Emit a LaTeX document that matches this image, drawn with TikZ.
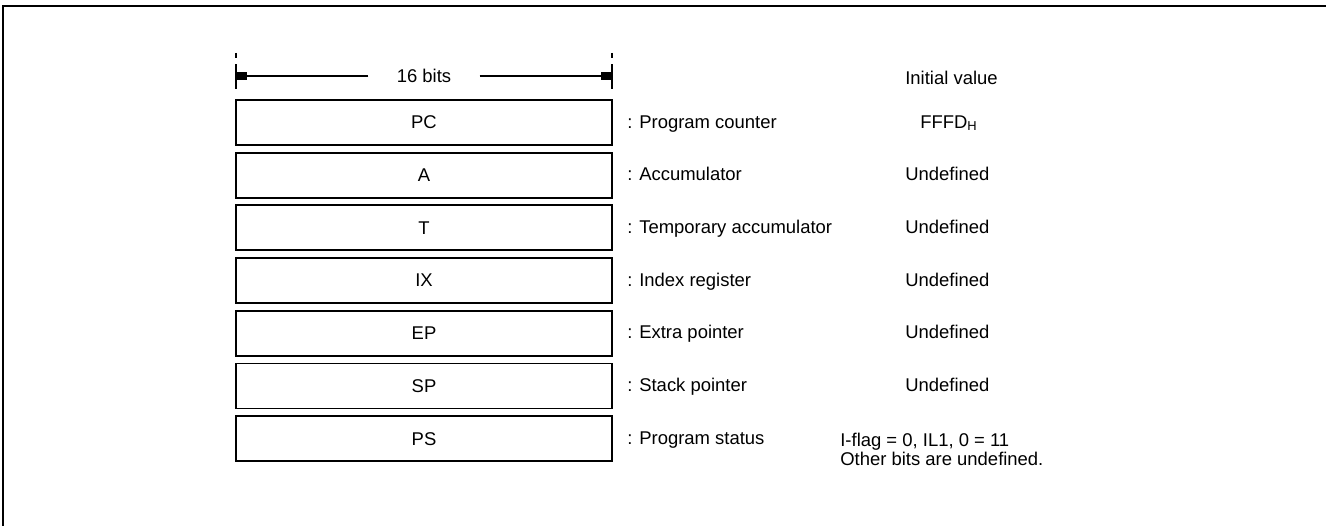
\documentclass[tikz,border=0pt]{standalone}
\usepackage{fontspec}
\setmainfont{Liberation Sans}
\usetikzlibrary{arrows.meta}
\newcommand{\dimtip}{-{Rectangle[length=6pt,width=4.5pt]}}

\begin{document}
\begin{tikzpicture}[x=0.02cm,y=-0.02cm,
    font=\fontsize{10.5}{13}\selectfont,
    reg/.style={draw,line width=1.1pt,minimum width=7.52cm,minimum height=0.9cm,inner sep=0pt},
    desc/.style={anchor=west,inner sep=0pt,text height=1.6ex,text depth=0.4ex},
    val/.style={anchor=west,inner sep=0pt,text height=1.6ex,text depth=0.4ex}]
    			\useasboundingbox (0,0) rectangle (1326,526);
    			\draw[line width=1.2pt] (3,526) -- (3,6) -- (1326,6);
    			% width of the registers
    			\draw[line width=0.9pt,dash pattern=on 3pt off 3.5pt on 14pt] (236,53) -- (236,89);
    			\draw[line width=0.9pt,dash pattern=on 3pt off 3.5pt on 14pt] (612,53) -- (612,89);
    			\coordinate (lt) at (236,76);
    			\coordinate (rt) at (612,76);
    			\node[inner xsep=16pt] (bits) at (424,76) {16 bits};
    			\draw[line width=0.9pt,\dimtip] (bits) -- (lt);
    			\draw[line width=0.9pt,\dimtip] (bits) -- (rt);
    			\node[val] (iv) at (905,79) {Initial value};
    			% registers
    			\node[reg] (pc) at (424,122.5) {PC};
    			\node[reg] (acc) at (424,175.2) {A};
    			\node[reg] (tmp) at (424,227.9) {T};
    			\node[reg] (ix) at (424,280.6) {IX};
    			\node[reg] (ep) at (424,333.3) {EP};
    			\node[reg] (sp) at (424,386) {SP};
    			\node[reg] (ps) at (424,438.7) {PS};
    			\node[desc] (pcd) at (627,122.5) {: Program counter};
    			\node[desc] (accd) at (627,175.2) {: Accumulator};
    			\node[desc] (tmpd) at (627,227.9) {: Temporary accumulator};
    			\node[desc] (ixd) at (627,280.6) {: Index register};
    			\node[desc] (epd) at (627,333.3) {: Extra pointer};
    			\node[desc] (spd) at (627,386) {: Stack pointer};
    			\node[desc] (psd) at (627,438.7) {: Program status};
    			% initial values
    			\node[val] (pcv) at (920,122.5) {FFFD\textsubscript{H}};
    			\node[val] (accv) at (905,175.2) {Undefined};
    			\node[val] (tmpv) at (905,227.9) {Undefined};
    			\node[val] (ixv) at (905,280.6) {Undefined};
    			\node[val] (epv) at (905,333.3) {Undefined};
    			\node[val] (spv) at (905,386) {Undefined};
    			\node[val] (psv) at (840,441) {I-flag = 0, IL1, 0 = 11};
    			\node[val] (psw) at (840,460) {Other bits are undefined.};
    			\end{tikzpicture}
\end{document}
